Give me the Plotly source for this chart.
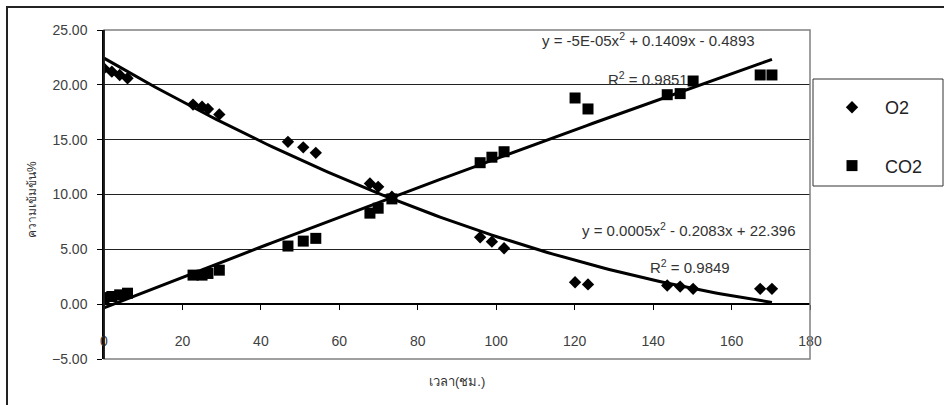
import numpy as np
import plotly.graph_objects as go

# Sampling times (hours) and gas concentrations (%)
hours = [0, 2, 4, 6, 22.7, 25, 26.5, 29.4, 46.9, 50.8, 54, 67.8, 69.9, 73.4,
         95.9, 98.9, 102, 120.1, 123.4, 143.6, 146.9, 150.2, 167.3, 170.3]
o2 = [21.5, 21.2, 20.9, 20.6, 18.2, 18.0, 17.8, 17.3, 14.8, 14.3, 13.8, 11.0,
      10.7, 9.8, 6.1, 5.7, 5.1, 2.0, 1.8, 1.7, 1.6, 1.4, 1.4, 1.4]
co2 = [0.6, 0.7, 0.85, 1.0, 2.65, 2.65, 2.8, 3.1, 5.3, 5.75, 6.0, 8.3, 8.75,
       9.6, 12.9, 13.4, 13.9, 18.8, 17.8, 19.1, 19.2, 20.35, 20.9, 20.9]

# Trendline equations as printed on the chart
o2_eq = "y = 0.0005x<sup>2</sup> - 0.2083x + 22.396"
o2_r2 = "R<sup>2</sup> = 0.9849"
co2_eq = "y = -5E-05x<sup>2</sup> + 0.1409x - 0.4893"
co2_r2 = "R<sup>2</sup> = 0.9851"

x_title = "เวลา(ชม.)"
y_title = "ความเข้มข้น%"

FONT = "Liberation Sans, Arial, Noto Sans, sans-serif"

# Second-order polynomial trendlines (least squares, as a spreadsheet does)
xs = np.linspace(min(hours), max(hours), 120)
o2_fit = np.polyval(np.polyfit(hours, o2, 2), xs)
co2_fit = np.polyval(np.polyfit(hours, co2, 2), xs)

fig = go.Figure()
fig.add_trace(go.Scatter(x=hours, y=o2, mode="markers", name="O2",
                         marker=dict(symbol="diamond", size=9.5, color="black",
                                     line=dict(width=0)), legendgroup="a"))
fig.add_trace(go.Scatter(x=hours, y=co2, mode="markers", name="CO2",
                         marker=dict(symbol="square", size=11, color="black",
                                     line=dict(width=0)), legendgroup="b"))
fig.add_trace(go.Scatter(x=xs, y=o2_fit, mode="lines", showlegend=False,
                         line=dict(color="black", width=3)))
fig.add_trace(go.Scatter(x=xs, y=co2_fit, mode="lines", showlegend=False,
                         line=dict(color="black", width=3)))

fig.update_layout(
    width=944, height=405,
    margin=dict(l=104, r=134, t=30, b=46),
    paper_bgcolor="white", plot_bgcolor="white",
    font=dict(family=FONT, color="#333333", size=14),
    showlegend=True,
    legend=dict(x=(819 - 104) / 706, xanchor="left",
                y=(359 - 89) / 329, yanchor="top",
                bgcolor="rgba(0,0,0,0)", borderwidth=0,
                font=dict(size=18, color="#222222"),
                tracegroupgap=32, traceorder="grouped",
                itemwidth=56),
    xaxis=dict(range=[0, 180], dtick=20, tick0=0,
               anchor="free", position=1/6,
               showline=True, linecolor="black", linewidth=1.5,
               ticks="outside", ticklen=5, tickcolor="black",
               ticklabelstandoff=19,
               showgrid=False, zeroline=False,
               tickfont=dict(size=14, color="#404040")),
    yaxis=dict(range=[-5, 25], dtick=5, tick0=0, tickformat=".2f",
               showline=True, linecolor="black", linewidth=1.5,
               ticks="outside", ticklen=5, tickcolor="black",
               ticklabelstandoff=7,
               showgrid=True, gridcolor="#222222", gridwidth=1,
               zeroline=False,
               tickfont=dict(size=14, color="#404040")),
)

# Plot-area frame (gray), legend box and outer chart frame
fig.add_shape(type="rect", xref="x domain", yref="y domain",
              x0=0, x1=1, y0=0, y1=1, line=dict(color="#808080", width=1.5),
              layer="above")
fig.add_shape(type="line", xref="x domain", yref="y domain",
              x0=0, x1=0, y0=0, y1=1, line=dict(color="black", width=1.5),
              layer="above")
fig.add_shape(type="rect", xref="paper", yref="paper",
              x0=(813 - 104) / 706, x1=(943 - 104) / 706,
              y0=(359 - 186) / 329, y1=(359 - 79) / 329,
              line=dict(color="#333333", width=1))
fig.add_shape(type="rect", xref="paper", yref="paper",
              x0=(7 - 104) / 706, x1=(960 - 104) / 706,
              y0=(359 - 420) / 329, y1=(359 - 7) / 329,
              line=dict(color="#222222", width=2))

annots = [
    dict(text=co2_eq, x=166.5, y=24.1, xanchor="right"),
    dict(text=co2_r2, x=149.4, y=20.6, xanchor="right"),
    dict(text=o2_eq, x=176.9, y=6.84, xanchor="right"),
    dict(text=o2_r2, x=160.1, y=3.47, xanchor="right"),
]
for a in annots:
    fig.add_annotation(xref="x", yref="y", showarrow=False, yanchor="middle",
                       font=dict(size=15, color="#333333"), **a)

fig.add_annotation(text=x_title, xref="paper", yref="paper",
                   x=0.5, y=(359 - 381) / 329, xanchor="center", yanchor="middle",
                   showarrow=False, font=dict(size=13, color="#333333"))
fig.add_annotation(text=y_title, xref="paper", yref="paper",
                   x=(32 - 104) / 706, y=(359 - 200) / 329,
                   xanchor="center", yanchor="middle", textangle=-90,
                   showarrow=False, font=dict(size=12, color="#333333"))

fig.write_html("out.html")
